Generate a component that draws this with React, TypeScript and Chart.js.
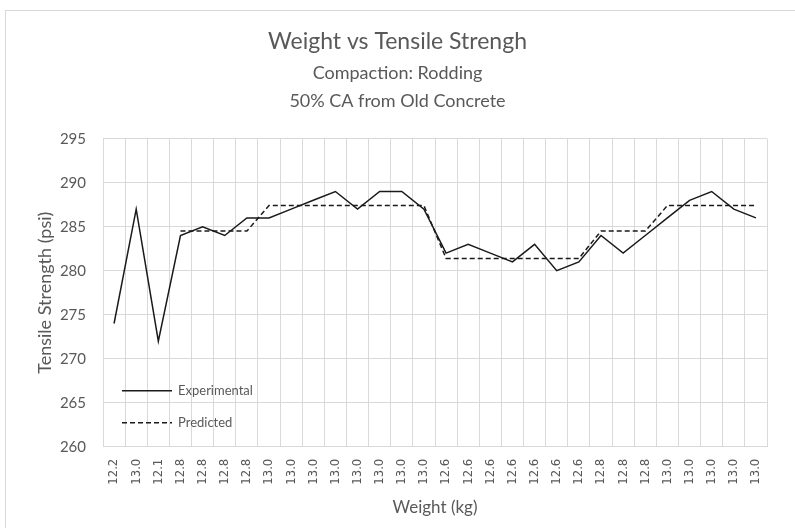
import React, { useEffect, useRef } from "react";
import { Chart, registerables } from "chart.js";

Chart.register(...registerables);

const weightLabels = [
  "12.2", "13.0", "12.1",
  "12.8", "12.8", "12.8", "12.8",
  "13.0", "13.0", "13.0", "13.0", "13.0", "13.0", "13.0", "13.0",
  "12.6", "12.6", "12.6", "12.6", "12.6", "12.6", "12.6",
  "12.8", "12.8", "12.8",
  "13.0", "13.0", "13.0", "13.0", "13.0",
];

const experimental = [
  274, 287, 272, 284, 285, 284, 286, 286, 287, 288, 289, 287, 289, 289, 287,
  282, 283, 282, 281, 283, 280, 281, 284, 282, 284, 286, 288, 289, 287, 286,
];

const predicted = [
  null, null, null, 284.5, 284.5, 284.5, 284.5,
  287.4, 287.4, 287.4, 287.4, 287.4, 287.4, 287.4, 287.4,
  281.4, 281.4, 281.4, 281.4, 281.4, 281.4, 281.4,
  284.5, 284.5, 284.5,
  287.4, 287.4, 287.4, 287.4, 287.4,
];

const yTicks = [260, 265, 270, 275, 280, 285, 290, 295];

const TEXT = "#595959";
const GRID = "#d9d9d9";
const FONT = "Lato, 'Open Sans', sans-serif";

const insideLegend = {
  id: "insideLegend",
  afterDatasetsDraw(chart: any) {
    const { ctx, chartArea } = chart;
    const ds = chart.data.datasets;
    const rows = [252, 284];
    ctx.save();
    ds.forEach((d: any, i: number) => {
      const y = chartArea.top + rows[i];
      const x0 = chartArea.left + 19;
      ctx.beginPath();
      ctx.setLineDash(d.borderDash || []);
      ctx.strokeStyle = d.borderColor;
      ctx.lineWidth = d.borderWidth;
      ctx.moveTo(x0, y);
      ctx.lineTo(x0 + 50, y);
      ctx.stroke();
      ctx.setLineDash([]);
      ctx.fillStyle = TEXT;
      ctx.font = `13px ${FONT}`;
      ctx.textBaseline = "middle";
      ctx.textAlign = "left";
      ctx.fillText(d.label, x0 + 56, y);
    });
    ctx.restore();
  },
};

export default function App() {
  const ref = useRef<HTMLCanvasElement | null>(null);

  useEffect(() => {
    if (!ref.current) return;
    const chart = new Chart(ref.current, {
      type: "line",
      data: {
        labels: weightLabels,
        datasets: [
          {
            label: "Experimental",
            data: experimental,
            borderColor: "#1a1a1a",
            borderWidth: 1.5,
            pointRadius: 0,
            tension: 0,
            fill: false,
          },
          {
            label: "Predicted",
            data: predicted as any,
            borderColor: "#1a1a1a",
            borderWidth: 1.5,
            borderDash: [5, 3],
            pointRadius: 0,
            tension: 0,
            fill: false,
            spanGaps: false,
          },
        ],
      },
      options: {
        animation: false,
        responsive: false,
        devicePixelRatio: 1,
        layout: { padding: { left: 28, right: 28, top: 0, bottom: 0 } },
        plugins: {
          legend: { display: false },
          tooltip: { enabled: false },
          title: {
            display: true,
            text: "Weight vs Tensile Strengh",
            color: TEXT,
            font: { family: FONT, size: 23, weight: "normal", lineHeight: 1.2 },
            padding: { top: 28.2, bottom: 0 },
          },
          subtitle: {
            display: true,
            text: ["Compaction: Rodding", "50% CA from Old Concrete"],
            color: TEXT,
            font: { family: FONT, size: 18, weight: "normal", lineHeight: 1.556 },
            padding: { top: 3.2, bottom: 23.7 },
          },
        },
        scales: {
          x: {
            type: "category",
            offset: true,
            grid: { offset: true, color: GRID, drawTicks: false, lineWidth: 1 },
            border: { color: GRID },
            ticks: {
              autoSkip: false,
              maxRotation: 90,
              minRotation: 90,
              padding: 12,
              color: TEXT,
              font: { family: "'Liberation Sans Narrow', 'DejaVu Sans Condensed', 'Liberation Sans', sans-serif", size: 13 },
            },
            title: {
              display: true,
              text: "Weight (kg)",
              color: TEXT,
              font: { family: FONT, size: 17, lineHeight: 1.2 },
              padding: { top: 0, bottom: 9.8 },
            },
            afterFit: (s: any) => {
              s.height = 81.3;
            },
          },
          y: {
            min: 260,
            max: 295,
            afterBuildTicks: (s: any) => {
              s.ticks = yTicks.map((v) => ({ value: v }));
            },
            grid: { color: GRID, drawTicks: false },
            border: { display: false },
            ticks: {
              padding: 17,
              color: TEXT,
              font: { family: FONT, size: 15 },
            },
            title: {
              display: true,
              text: "Tensile Strength (psi)",
              color: TEXT,
              font: { family: FONT, size: 18, lineHeight: 1.2 },
              padding: { top: 6.2, bottom: 0 },
            },
            afterFit: (s: any) => {
              s.width = 75;
            },
          },
        },
      },
      plugins: [insideLegend],
    });
    return () => chart.destroy();
  }, []);

  return (
    <div style={{ position: "absolute", left: 0, top: 0, width: 795, height: 528, overflow: "hidden", background: "#fff" }}>
      <div
        style={{
          position: "absolute",
          left: 5,
          top: 10,
          width: 820,
          height: 560,
          border: `1px solid ${GRID}`,
        }}
      />
      <canvas ref={ref} width={795} height={528} style={{ position: "absolute", left: 0, top: 0 }} />
    </div>
  );
}
